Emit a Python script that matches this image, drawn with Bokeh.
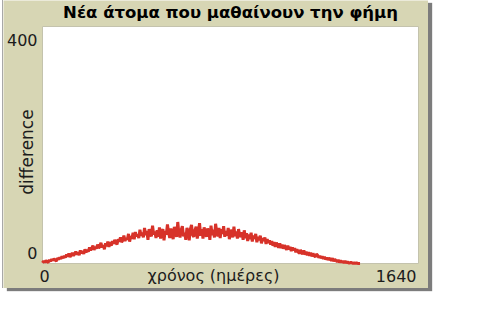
import math
from bokeh.plotting import figure
from bokeh.models import Label
from bokeh.embed import file_html
from bokeh.resources import INLINE

# ---- data ----
title_text = "Νέα άτομα που μαθαίνουν την φήμη"
x_label = "χρόνος (ημέρες)"
y_label = "difference"
x_min, x_max = 0, 1640
y_min, y_max = 0, 400

days = list(range(0, 1390, 5))
difference = [
    1, 4, 2, 5, 3, 2, 6, 4, 7, 5, 8, 6, 4, 9, 7, 10, 8, 12, 9, 13,
    10, 15, 12, 17, 11, 14, 18, 13, 16, 20, 15, 19, 14, 22, 17, 21, 16, 24, 19, 23,
    20, 27, 22, 26, 30, 23, 28, 25, 32, 26, 29, 35, 27, 31, 24, 34, 29, 37, 28, 36,
    30, 38, 33, 40, 35, 32, 41, 37, 44, 36, 39, 47, 38, 43, 40, 50, 37, 46, 42, 52,
    41, 53, 46, 49, 43, 57, 47, 52, 44, 60, 48, 55, 40, 58, 50, 46, 64, 49, 54, 43,
    56, 45, 61, 42, 53, 58, 39, 55, 49, 66, 52, 43, 59, 50, 41, 62, 54, 45, 70, 51,
    44, 57, 63, 46, 52, 40, 60, 55, 39, 58, 65, 48, 45, 56, 62, 42, 53, 68, 47, 58,
    42, 61, 52, 45, 59, 55, 40, 64, 48, 57, 44, 67, 53, 46, 60, 43, 58, 50, 63, 45,
    55, 47, 60, 41, 57, 51, 44, 62, 46, 54, 42, 58, 48, 45, 53, 40, 56, 43, 51, 38,
    49, 41, 52, 37, 47, 42, 50, 36, 45, 39, 47, 34, 43, 38, 44, 33, 41, 35, 39, 32,
    38, 30, 36, 28, 35, 31, 27, 34, 26, 32, 25, 31, 27, 23, 30, 24, 28, 21, 27, 22,
    26, 19, 24, 20, 17, 23, 18, 16, 22, 15, 20, 14, 19, 13, 18, 12, 17, 13, 11, 16,
    14, 10, 13, 9, 12, 8, 11, 7, 10, 6, 9, 7, 5, 9, 4, 7, 5, 3, 6, 2,
    5, 2, 4, 1, 4, 1, 3, 1, 1, 2, 1, 0, 1, 0, 1, 0, 0, 0,
]

# ---- layout (pixels) ----
W, H = 425, 288                  # beige panel
PL, PR, PT, PB = 39, 415, 26, 263  # white plot area inside the panel
PANEL = "#D7D6B4"
INK = "#1c1c1c"
RED = "#D73229"
FONT = "DejaVu Sans"

ux = (x_max - x_min) / (PR - PL)   # data units per pixel
uy = (y_max - y_min) / (PB - PT)
xr = (x_min - PL * ux, x_max + (W - PR) * ux)
yr = (y_min - (H - PB) * uy, y_max + PT * uy)

p = figure(
    width=W, height=H, x_range=xr, y_range=yr,
    output_backend="svg", toolbar_location=None,
    x_axis_location=None, y_axis_location=None,
    min_border=0, background_fill_color=PANEL, border_fill_color=PANEL,
    outline_line_color=None,
)
p.grid.visible = False
p.styles = {
    "margin-left": "3px",
    "box-shadow": "-1px 0 0 #a8a8a8, 4px 3px 1px #7c7c7c",
}

# white plotting area
p.quad(left=x_min, right=x_max, bottom=y_min, top=y_max,
       fill_color="white", line_color="#c4c3ad", line_width=1)

p.line(days, difference, color=RED, line_width=3)

def lab(x, y, text, dx, dy, align, baseline="middle", size="16px", **kw):
    p.add_layout(Label(x=x, y=y, text=text, x_offset=dx, y_offset=dy,
                       text_align=align, text_baseline=baseline,
                       text_font=FONT, text_font_size=size,
                       text_color=kw.pop("color", INK), **kw))

# NetLogo style end labels
lab(x_min, y_max, str(y_max), -5, -7, "right", "top")
lab(x_min, y_min, str(y_min), -5, 11, "right")
lab(x_min, y_min, str(x_min), -3, -12, "left")
lab(x_max, y_min, str(x_max), -2, -12, "right")
lab((x_min + x_max) / 2, y_min, x_label, -17, -12, "center")
lab(x_min, (y_min + y_max) / 2, y_label, -16, -7, "center",
    size="17px", angle=math.pi / 2)
lab((x_min + x_max) / 2, y_max, title_text, 0, 14, "center",
    size="16.5px", text_font_style="bold", color="black")

open("out.html", "w").write(file_html(p, INLINE))
